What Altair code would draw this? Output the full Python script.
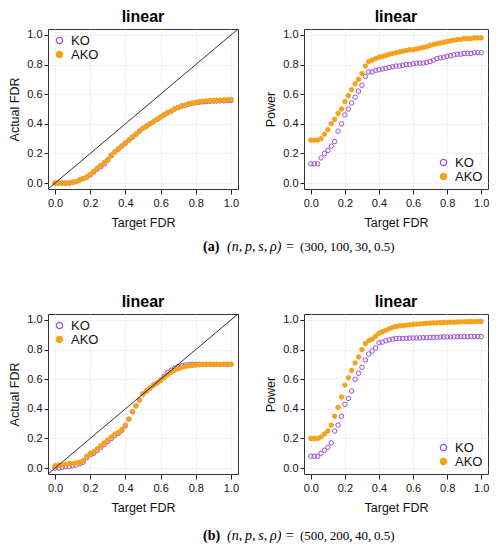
import altair as alt
import pandas as pd

# target FDR grid shared by all panels
target = [0.00, 0.02, 0.04, 0.06, 0.08, 0.10, 0.12, 0.14, 0.16, 0.18,
          0.20, 0.22, 0.24, 0.26, 0.28, 0.30, 0.32, 0.34, 0.36, 0.38,
          0.40, 0.42, 0.44, 0.46, 0.48, 0.50, 0.52, 0.54, 0.56, 0.58,
          0.60, 0.62, 0.64, 0.66, 0.68, 0.70, 0.72, 0.74, 0.76, 0.78,
          0.80, 0.82, 0.84, 0.86, 0.88, 0.90, 0.92, 0.94, 0.96, 0.98, 1.00]

# (a) n=300, p=100
fdr_a_ko = [0.0, 0.0, 0.0, 0.0, 0.0, 0.005, 0.01, 0.02, 0.03, 0.04,
            0.055, 0.075, 0.095, 0.11, 0.13, 0.155, 0.185, 0.21, 0.23, 0.25,
            0.27, 0.29, 0.31, 0.33, 0.35, 0.37, 0.385, 0.40, 0.415, 0.43,
            0.445, 0.46, 0.475, 0.485, 0.50, 0.51, 0.52, 0.525, 0.533, 0.538,
            0.542, 0.546, 0.548, 0.55, 0.552, 0.553, 0.554, 0.555, 0.555, 0.556, 0.557]
fdr_a_ako = [0.0, 0.0, 0.0, 0.0, 0.0, 0.005, 0.01, 0.02, 0.03, 0.04,
             0.06, 0.08, 0.10, 0.12, 0.14, 0.16, 0.19, 0.21, 0.23, 0.25,
             0.27, 0.29, 0.31, 0.33, 0.35, 0.37, 0.385, 0.40, 0.415, 0.43,
             0.445, 0.46, 0.475, 0.485, 0.50, 0.51, 0.52, 0.525, 0.535, 0.54,
             0.545, 0.55, 0.553, 0.555, 0.557, 0.558, 0.56, 0.56, 0.562, 0.563, 0.565]
pow_a_ko = [0.13, 0.13, 0.13, 0.17, 0.20, 0.22, 0.25, 0.28, 0.35, 0.40,
            0.46, 0.50, 0.54, 0.58, 0.62, 0.66, 0.72, 0.75, 0.75, 0.76,
            0.765, 0.77, 0.775, 0.78, 0.785, 0.79, 0.79, 0.795, 0.80, 0.80,
            0.805, 0.81, 0.81, 0.81, 0.815, 0.82, 0.83, 0.84, 0.845, 0.85,
            0.855, 0.86, 0.865, 0.87, 0.87, 0.875, 0.875, 0.875, 0.88, 0.88, 0.88]
pow_a_ako = [0.29, 0.29, 0.29, 0.30, 0.33, 0.36, 0.40, 0.43, 0.47, 0.50,
             0.55, 0.59, 0.63, 0.67, 0.70, 0.74, 0.79, 0.82, 0.83, 0.84,
             0.85, 0.855, 0.86, 0.87, 0.875, 0.88, 0.885, 0.89, 0.895, 0.90,
             0.90, 0.905, 0.91, 0.915, 0.92, 0.93, 0.935, 0.94, 0.945, 0.95,
             0.955, 0.96, 0.965, 0.97, 0.97, 0.975, 0.975, 0.975, 0.98, 0.98, 0.98]

# (b) n=500, p=200
fdr_b_ko = [0.0, 0.0, 0.005, 0.01, 0.01, 0.015, 0.02, 0.03, 0.04, 0.07,
            0.09, 0.10, 0.12, 0.14, 0.16, 0.18, 0.20, 0.22, 0.235, 0.255,
            0.285, 0.33, 0.38, 0.42, 0.46, 0.50, 0.52, 0.54, 0.56, 0.575,
            0.595, 0.62, 0.645, 0.66, 0.675, 0.685, 0.69, 0.695, 0.698, 0.70,
            0.70, 0.70, 0.70, 0.70, 0.70, 0.70, 0.70, 0.70, 0.70, 0.70, 0.70]
fdr_b_ako = [0.015, 0.02, 0.02, 0.025, 0.03, 0.03, 0.035, 0.04, 0.05, 0.08,
             0.10, 0.11, 0.13, 0.15, 0.17, 0.19, 0.21, 0.23, 0.24, 0.26,
             0.29, 0.33, 0.38, 0.42, 0.46, 0.50, 0.52, 0.54, 0.56, 0.575,
             0.59, 0.61, 0.63, 0.645, 0.66, 0.67, 0.68, 0.685, 0.69, 0.692,
             0.695, 0.697, 0.70, 0.70, 0.70, 0.70, 0.70, 0.70, 0.70, 0.70, 0.70]
pow_b_ko = [0.08, 0.08, 0.08, 0.10, 0.12, 0.14, 0.17, 0.25, 0.29, 0.35,
            0.43, 0.47, 0.52, 0.60, 0.64, 0.68, 0.73, 0.77, 0.79, 0.81,
            0.845, 0.85, 0.86, 0.865, 0.87, 0.875, 0.875, 0.875, 0.876, 0.877,
            0.878, 0.878, 0.879, 0.88, 0.88, 0.881, 0.882, 0.883, 0.884, 0.885,
            0.885, 0.885, 0.886, 0.886, 0.887, 0.887, 0.887, 0.888, 0.888, 0.888, 0.888]
pow_b_ako = [0.20, 0.20, 0.20, 0.21, 0.23, 0.25, 0.29, 0.35, 0.41, 0.48,
             0.56, 0.61, 0.66, 0.71, 0.75, 0.80, 0.84, 0.86, 0.87, 0.89,
             0.91, 0.92, 0.93, 0.94, 0.95, 0.955, 0.96, 0.962, 0.965, 0.967,
             0.97, 0.972, 0.973, 0.975, 0.977, 0.978, 0.98, 0.98, 0.982, 0.983,
             0.984, 0.985, 0.985, 0.986, 0.987, 0.987, 0.988, 0.988, 0.989, 0.99, 0.99]

methods = ["KO", "AKO"]
ticks = [0.0, 0.2, 0.4, 0.6, 0.8, 1.0]
caption_a = ["(a)", "(n,\u2009p,\u2009s,\u2009\u03c1)", "=", "(300,\u2009100,\u200930,\u20090.5)"]
caption_b = ["(b)", "(n,\u2009p,\u2009s,\u2009\u03c1)", "=", "(500,\u2009200,\u200940,\u20090.5)"]

KO_COLOR = "#9d4ed8"
AKO_COLOR = "#f7a21b"


def xenc(field, title):
    return alt.X(field, title=title,
                 scale=alt.Scale(domain=[-0.04, 1.04], nice=False, zero=False),
                 axis=alt.Axis(values=ticks, format=".1f", labelOverlap=False))


def yenc(field, title):
    return alt.Y(field, title=title,
                 scale=alt.Scale(domain=[-0.04, 1.04], nice=False, zero=False),
                 axis=alt.Axis(values=ticks, format=".1f", labelOverlap=False))


def panel(ko, ako, ytitle, legend_orient, diagonal, width):
    df = pd.DataFrame({
        "target": target + target,
        "value": ko + ako,
        "method": ["KO"] * len(target) + ["AKO"] * len(target),
    })
    legend = alt.Legend(title=None, orient=legend_orient, labelFontSize=13,
                        labelFont="Liberation Sans", labelColor="#111111",
                        symbolSize=40, symbolStrokeWidth=1.2, rowPadding=-1,
                        offset=5, padding=0, labelOffset=5)
    pts = alt.Chart(df).mark_point(size=20, strokeWidth=1, opacity=1).encode(
        x=xenc("target:Q", "Target FDR"),
        y=yenc("value:Q", ytitle),
        stroke=alt.Stroke("method:N", legend=legend,
                          scale=alt.Scale(domain=methods, range=[KO_COLOR, AKO_COLOR])),
        fill=alt.Fill("method:N", legend=legend,
                      scale=alt.Scale(domain=methods, range=["transparent", AKO_COLOR])),
    )
    layers = [pts]
    if diagonal:
        diag = alt.Chart(pd.DataFrame({"a": [-0.04], "b": [1.04]})).mark_rule(
            color="black", strokeWidth=0.8
        ).encode(
            x=xenc("a:Q", "Target FDR"),
            y=yenc("a:Q", ytitle),
            x2="b:Q",
            y2="b:Q",
        )
        layers.append(diag)
    return alt.layer(*layers).properties(
        width=width, height=160,
        title=alt.TitleParams("linear", fontSize=16, fontWeight="bold",
                              font="Liberation Sans", anchor="middle", offset=4),
        view=alt.ViewBackground(stroke="#333333", strokeWidth=1),
    )


def caption(pieces, height, ypos):
    xs = [155, 179, 238, 252]
    weights = ["bold", "normal", "normal", "normal"]
    styles = ["normal", "italic", "normal", "normal"]
    sizes = [14, 14, 14, 13]
    layers = []
    for text, x, w, s, fs in zip(pieces, xs, weights, styles, sizes):
        layers.append(
            alt.Chart(pd.DataFrame({"t": [text]})).mark_text(
                align="left", baseline="middle", font="Liberation Serif",
                fontSize=fs, fontWeight=w, fontStyle=s, color="black"
            ).encode(text="t:N", x=alt.value(x), y=alt.value(ypos))
        )
    return alt.layer(*layers).properties(width=440, height=height)


def row(left, right):
    return (
        alt.hconcat(left, right, spacing=24)
        .resolve_scale(stroke="independent", fill="independent")
        .resolve_legend(stroke="independent", fill="independent")
    )


row_a = row(panel(fdr_a_ko, fdr_a_ako, "Actual FDR", "top-left", True, 190),
            panel(pow_a_ko, pow_a_ako, "Power", "bottom-right", False, 184))
row_b = row(panel(fdr_b_ko, fdr_b_ako, "Actual FDR", "top-left", True, 190),
            panel(pow_b_ko, pow_b_ako, "Power", "bottom-right", False, 184))

chart = (
    alt.vconcat(row_a, caption(caption_a, 64, 18), row_b, caption(caption_b, 24, 22),
                spacing=0)
    .resolve_scale(stroke="independent", fill="independent")
    .resolve_legend(stroke="independent", fill="independent")
    .properties(padding={"left": 0, "top": 0, "right": 0, "bottom": 0})
    .configure_view(stroke=None)
    .configure_axis(
        labelFont="Liberation Sans", labelFontSize=11, labelColor="#111111",
        titleFont="Liberation Sans", titleFontSize=12.5, titleFontWeight="normal",
        titleColor="#111111", domain=False, tickColor="#222222", tickSize=5,
        labelPadding=3, titlePadding=8, gridColor="#d4d4d4", gridDash=[1, 2],
        gridWidth=0.8,
    )
    .configure_axisY(labelPadding=2, titlePadding=5, tickSize=4)
)

chart.save("out.html", embed_options={"renderer": "svg", "actions": False})
